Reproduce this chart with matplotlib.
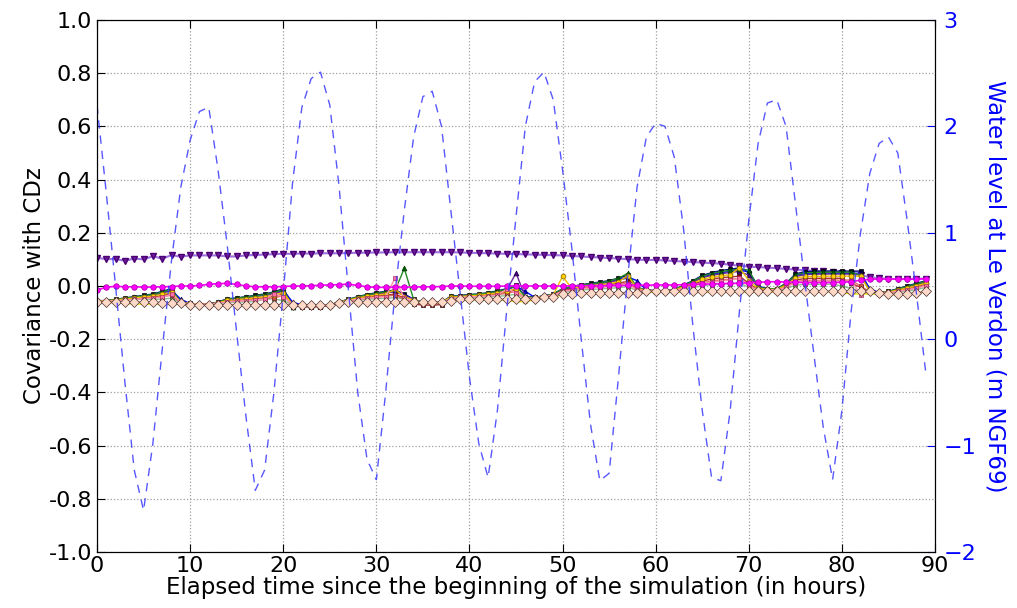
import numpy as np
import matplotlib
matplotlib.use('Agg')
import matplotlib.pyplot as plt

hours = list(range(90))

water_level = [
    2.20, 1.37, 0.49, -0.41, -1.23, -1.61, -0.98, -0.10, 0.74, 1.43,
    1.87, 2.14, 2.18, 1.59, 0.87, 0.06, -0.73, -1.42, -1.23, -0.50,
    0.43, 1.47, 2.18, 2.45, 2.51, 2.20, 1.43, 0.46, -0.50, -1.13,
    -1.32, -0.50, 0.43, 1.21, 1.90, 2.28, 2.33, 2.00, 1.21, 0.43,
    -0.36, -0.98, -1.30, -0.67, 0.27, 1.15, 2.00, 2.42, 2.51, 2.25,
    1.59, 0.85, 0.00, -0.80, -1.33, -1.26, -0.36, 0.59, 1.43, 1.90,
    2.03, 2.00, 1.71, 1.03, 0.12, -0.67, -1.30, -1.33, -0.67, 0.27,
    1.12, 1.84, 2.22, 2.25, 2.00, 1.28, 0.55, -0.15, -0.83, -1.32,
    -0.67, 0.27, 1.00, 1.56, 1.84, 1.90, 1.75, 1.12, 0.43, -0.31]

cov_purple = [
    0.106, 0.101, 0.101, 0.095, 0.103, 0.100, 0.112, 0.103, 0.116, 0.110,
    0.115, 0.115, 0.115, 0.115, 0.111, 0.111, 0.115, 0.117, 0.118, 0.120,
    0.121, 0.121, 0.122, 0.122, 0.123, 0.123, 0.123, 0.124, 0.125, 0.125,
    0.126, 0.126, 0.127, 0.127, 0.127, 0.127, 0.127, 0.127, 0.127, 0.126,
    0.125, 0.124, 0.123, 0.122, 0.121, 0.120, 0.119, 0.118, 0.117, 0.116,
    0.115, 0.113, 0.111, 0.109, 0.107, 0.105, 0.103, 0.101, 0.099, 0.098,
    0.098, 0.096, 0.094, 0.092, 0.090, 0.088, 0.086, 0.084, 0.080, 0.076,
    0.073, 0.071, 0.069, 0.067, 0.064, 0.062, 0.059, 0.057, 0.055, 0.053,
    0.050, 0.046, 0.041, 0.033, 0.029, 0.027, 0.026, 0.026, 0.027, 0.028]

cov_magenta = [
    -0.015, -0.005, -0.001, -0.003, -0.003, -0.004, -0.004, -0.003, -0.002, 0.000,
    0.000, 0.002, 0.006, 0.009, 0.010, 0.006, 0.000, -0.003, -0.003, -0.003,
    -0.002, 0.000, 0.000, 0.001, 0.003, 0.004, 0.005, 0.007, 0.002, -0.003,
    -0.005, -0.005, -0.004, -0.004, -0.004, -0.003, -0.003, -0.002, 0.000, 0.000,
    -0.001, -0.001, -0.001, -0.001, 0.000, 0.000, 0.000, 0.000, 0.000, 0.000,
    0.000, 0.001, 0.001, 0.001, 0.001, 0.002, 0.002, 0.002, 0.003, 0.003,
    0.004, 0.004, 0.004, 0.005, 0.006, 0.007, 0.008, 0.009, 0.010, 0.010,
    0.012, 0.014, 0.016, 0.016, 0.015, 0.014, 0.013, 0.013, 0.013, 0.013,
    0.014, 0.016, 0.022, 0.025, 0.026, 0.026, 0.026, 0.026, 0.026, 0.027]

cov_navy = [
    -0.055, -0.055, -0.050, -0.045, -0.040, -0.035, -0.030, -0.020, -0.010, -0.060,
    -0.065, -0.068, -0.068, -0.060, -0.048, -0.045, -0.040, -0.035, -0.030, -0.022,
    -0.010, -0.070, -0.072, -0.075, -0.075, -0.072, -0.060, -0.050, -0.040, -0.032,
    -0.025, -0.020, -0.015, -0.030, -0.050, -0.062, -0.065, -0.062, -0.038, -0.036,
    -0.032, -0.030, -0.025, -0.018, -0.010, 0.004, -0.040, -0.042, -0.038, -0.030,
    -0.010, -0.002, 0.005, 0.010, 0.015, 0.020, 0.030, 0.040, -0.005, -0.015,
    -0.018, -0.018, -0.015, 0.004, 0.020, 0.040, 0.050, 0.058, 0.063, 0.068,
    0.050, -0.005, -0.010, -0.010, 0.010, 0.045, 0.054, 0.055, 0.056, 0.056,
    0.056, 0.056, 0.056, -0.020, -0.025, -0.020, -0.010, 0.000, 0.010, 0.020]

cov_blue = [
    -0.056, -0.056, -0.051, -0.047, -0.042, -0.038, -0.033, -0.025, -0.016, -0.050,
    -0.066, -0.070, -0.070, -0.061, -0.050, -0.048, -0.043, -0.039, -0.034, -0.027,
    -0.016, -0.060, -0.072, -0.074, -0.074, -0.071, -0.061, -0.051, -0.042, -0.035,
    -0.029, -0.024, -0.020, -0.033, -0.052, -0.062, -0.065, -0.062, -0.040, -0.037,
    -0.034, -0.032, -0.028, -0.021, -0.014, -0.001, -0.020, -0.043, -0.038, -0.031,
    -0.012, -0.005, 0.002, 0.007, 0.011, 0.016, 0.025, 0.034, 0.020, -0.015,
    -0.018, -0.018, -0.016, 0.002, 0.016, 0.034, 0.043, 0.050, 0.055, 0.059,
    0.055, 0.000, -0.011, -0.011, 0.007, 0.039, 0.047, 0.048, 0.048, 0.048,
    0.048, 0.048, 0.048, -0.010, -0.025, -0.021, -0.012, -0.003, 0.007, 0.016]

cov_green = [
    -0.055, -0.055, -0.050, -0.046, -0.041, -0.036, -0.032, -0.022, -0.013, -0.062,
    -0.065, -0.069, -0.069, -0.061, -0.049, -0.046, -0.041, -0.037, -0.032, -0.024,
    -0.013, -0.078, -0.075, -0.075, -0.074, -0.071, -0.060, -0.050, -0.041, -0.033,
    -0.027, -0.022, -0.017, 0.066, -0.050, -0.062, -0.065, -0.062, -0.039, -0.037,
    -0.033, -0.031, -0.026, -0.020, -0.012, 0.000, -0.041, -0.042, -0.038, -0.031,
    -0.011, -0.003, 0.004, 0.008, 0.013, 0.018, 0.029, 0.048, -0.006, -0.016,
    -0.018, -0.018, -0.015, 0.003, 0.018, 0.037, 0.047, 0.054, 0.059, 0.064,
    0.060, -0.005, -0.010, -0.011, 0.009, 0.042, 0.050, 0.051, 0.052, 0.052,
    0.052, 0.052, 0.040, -0.020, -0.025, -0.021, -0.011, -0.002, 0.008, 0.018]

cov_indigo = [
    -0.056, -0.056, -0.052, -0.047, -0.043, -0.039, -0.035, -0.027, -0.018, -0.061,
    -0.066, -0.069, -0.069, -0.062, -0.051, -0.049, -0.045, -0.040, -0.036, -0.029,
    -0.019, -0.070, -0.073, -0.075, -0.075, -0.072, -0.061, -0.052, -0.043, -0.036,
    -0.030, -0.026, -0.022, -0.035, -0.052, -0.062, -0.065, -0.062, -0.041, -0.038,
    -0.035, -0.033, -0.029, -0.023, -0.016, 0.049, -0.042, -0.043, -0.038, -0.032,
    -0.013, -0.006, 0.000, 0.005, 0.009, 0.013, 0.022, 0.030, -0.008, -0.016,
    -0.018, -0.018, -0.016, 0.000, 0.014, 0.031, 0.040, 0.046, 0.051, 0.055,
    0.040, -0.007, -0.012, -0.012, 0.006, 0.035, 0.043, 0.044, 0.045, 0.045,
    0.045, 0.045, 0.045, -0.020, -0.025, -0.022, -0.013, -0.005, 0.005, 0.014]

cov_gold = [
    -0.056, -0.056, -0.053, -0.049, -0.045, -0.041, -0.038, -0.031, -0.024, -0.061,
    -0.066, -0.069, -0.069, -0.063, -0.054, -0.051, -0.048, -0.044, -0.040, -0.034,
    -0.025, -0.070, -0.072, -0.074, -0.074, -0.071, -0.061, -0.053, -0.045, -0.039,
    -0.034, -0.030, -0.013, -0.040, -0.053, -0.062, -0.064, -0.062, -0.042, -0.040,
    -0.037, -0.035, -0.031, -0.026, -0.020, -0.010, -0.057, -0.044, -0.039, -0.033,
    0.036, -0.009, -0.003, 0.001, 0.005, 0.009, 0.016, 0.039, -0.010, -0.016,
    -0.018, -0.018, -0.016, -0.002, 0.010, 0.025, 0.033, 0.039, 0.042, 0.069,
    0.020, -0.009, -0.013, -0.013, 0.003, 0.029, 0.036, 0.036, 0.037, 0.037,
    0.037, 0.037, 0.037, -0.020, -0.025, -0.023, -0.015, -0.008, 0.001, 0.010]

cov_darkred = [
    -0.057, -0.057, -0.054, -0.050, -0.047, -0.044, -0.041, -0.036, -0.029, -0.062,
    -0.067, -0.069, -0.069, -0.064, -0.056, -0.054, -0.051, -0.047, -0.044, -0.039,
    -0.031, -0.074, -0.078, -0.079, -0.078, -0.074, -0.062, -0.054, -0.047, -0.042,
    -0.037, -0.034, -0.031, -0.045, -0.068, -0.072, -0.072, -0.070, -0.044, -0.041,
    -0.038, -0.037, -0.034, -0.029, -0.024, -0.015, -0.050, -0.046, -0.040, -0.034,
    -0.017, -0.012, -0.006, -0.002, 0.001, 0.004, 0.011, 0.017, -0.012, -0.018,
    -0.020, -0.020, -0.017, -0.004, 0.006, 0.019, 0.026, 0.031, 0.034, 0.037,
    0.010, -0.015, -0.014, -0.014, -0.001, 0.022, 0.028, 0.029, 0.029, 0.029,
    0.029, 0.010, -0.005, -0.022, -0.026, -0.024, -0.017, -0.011, -0.002, 0.006]

cov_red = [
    -0.057, -0.057, -0.055, -0.052, -0.049, -0.046, -0.044, -0.040, -0.035, -0.063,
    -0.067, -0.069, -0.069, -0.065, -0.058, -0.056, -0.054, -0.051, -0.048, -0.044,
    -0.037, -0.072, -0.076, -0.077, -0.076, -0.073, -0.062, -0.055, -0.049, -0.045,
    -0.041, -0.038, -0.035, -0.050, -0.062, -0.066, -0.066, -0.064, -0.046, -0.042,
    -0.040, -0.039, -0.036, -0.032, -0.028, -0.020, -0.048, -0.046, -0.040, -0.035,
    -0.019, -0.015, -0.009, -0.006, -0.003, 0.000, 0.005, 0.011, -0.014, -0.018,
    -0.020, -0.020, -0.017, -0.007, 0.002, 0.013, 0.019, 0.023, 0.026, 0.028,
    0.005, -0.016, -0.015, -0.015, -0.004, 0.016, 0.021, 0.021, 0.022, 0.022,
    0.022, 0.022, 0.000, -0.022, -0.026, -0.025, -0.019, -0.014, -0.006, 0.002]

cov_pink = [
    -0.058, -0.058, -0.055, -0.053, -0.050, -0.048, -0.045, -0.043, -0.030, -0.060,
    -0.068, -0.069, -0.069, -0.065, -0.059, -0.058, -0.055, -0.053, -0.050, -0.030,
    -0.040, -0.070, -0.072, -0.074, -0.074, -0.071, -0.063, -0.055, -0.050, -0.046,
    -0.043, -0.040, 0.029, -0.045, -0.060, -0.062, -0.064, -0.062, -0.047, -0.043,
    -0.041, -0.040, -0.038, -0.034, -0.012, -0.025, -0.045, -0.046, -0.039, -0.035,
    -0.020, -0.016, -0.010, -0.008, -0.005, -0.003, 0.003, 0.008, -0.015, -0.018,
    -0.020, -0.020, -0.018, -0.008, 0.000, 0.010, 0.015, 0.019, 0.022, 0.030,
    0.000, -0.017, -0.015, -0.015, -0.005, 0.013, 0.017, 0.018, 0.018, 0.018,
    0.018, 0.018, -0.032, -0.024, -0.026, -0.025, -0.020, -0.015, -0.008, 0.000]

cov_sage = [
    -0.058, -0.058, -0.056, -0.052, -0.050, -0.050, -0.050, -0.049, -0.046, -0.063,
    -0.068, -0.070, -0.070, -0.066, -0.062, -0.061, -0.060, -0.058, -0.050, -0.048,
    -0.055, -0.070, -0.072, -0.072, -0.072, -0.070, -0.063, -0.056, -0.053, -0.050,
    -0.048, -0.046, -0.044, -0.050, -0.056, -0.060, -0.060, -0.060, -0.049, -0.045,
    -0.044, -0.043, -0.041, -0.039, -0.036, -0.031, -0.047, -0.047, -0.039, -0.036,
    -0.023, -0.020, -0.015, -0.013, -0.011, -0.009, -0.006, -0.002, -0.018, -0.018,
    -0.020, -0.020, -0.018, -0.012, -0.006, 0.001, 0.005, 0.007, 0.009, 0.011,
    -0.005, -0.018, -0.017, -0.017, -0.010, 0.003, 0.006, 0.006, 0.007, 0.007,
    0.000, -0.010, -0.020, -0.022, -0.026, -0.027, -0.023, -0.020, -0.013, -0.006]

cov_yellow = [
    -0.062, -0.062, -0.063, -0.065, -0.068, -0.068, -0.068, -0.068, -0.068, -0.068,
    -0.070, -0.071, -0.071, -0.071, -0.071, -0.071, -0.071, -0.071, -0.071, -0.071,
    -0.071, -0.071, -0.072, -0.073, -0.073, -0.070, -0.065, -0.062, -0.062, -0.062,
    -0.062, -0.062, -0.062, -0.063, -0.064, -0.064, -0.063, -0.062, -0.058, -0.053,
    -0.053, -0.053, -0.053, -0.053, -0.053, -0.060, -0.058, -0.053, -0.045, -0.042,
    -0.033, -0.030, -0.028, -0.028, -0.028, -0.028, -0.028, -0.028, -0.028, -0.025,
    -0.023, -0.023, -0.023, -0.023, -0.023, -0.023, -0.023, -0.023, -0.023, -0.023,
    -0.023, -0.023, -0.023, -0.023, -0.023, -0.022, -0.022, -0.022, -0.022, -0.022,
    -0.025, -0.030, -0.030, -0.030, -0.030, -0.033, -0.033, -0.032, -0.028, -0.022]

cov_diamond = [
    -0.060, -0.060, -0.060, -0.060, -0.060, -0.060, -0.060, -0.065, -0.065, -0.065,
    -0.070, -0.070, -0.070, -0.070, -0.070, -0.070, -0.070, -0.070, -0.070, -0.070,
    -0.070, -0.070, -0.072, -0.072, -0.072, -0.070, -0.065, -0.060, -0.060, -0.060,
    -0.060, -0.060, -0.060, -0.060, -0.060, -0.060, -0.060, -0.060, -0.055, -0.050,
    -0.050, -0.050, -0.050, -0.050, -0.050, -0.050, -0.050, -0.050, -0.040, -0.040,
    -0.030, -0.030, -0.025, -0.025, -0.025, -0.025, -0.025, -0.025, -0.025, -0.020,
    -0.020, -0.020, -0.020, -0.020, -0.020, -0.020, -0.020, -0.020, -0.020, -0.020,
    -0.020, -0.020, -0.020, -0.020, -0.020, -0.020, -0.020, -0.020, -0.020, -0.020,
    -0.020, -0.020, -0.020, -0.020, -0.025, -0.030, -0.030, -0.030, -0.025, -0.020]

left_ticks = [-1.0, -0.8, -0.6, -0.4, -0.2, 0.0, 0.2, 0.4, 0.6, 0.8, 1.0]
right_ticks = [-2, -1, 0, 1, 2, 3]
x_ticks = [0, 10, 20, 30, 40, 50, 60, 70, 80, 90]

# drawing order: bottom to top
cluster = [cov_navy, cov_blue, cov_indigo, cov_green, cov_sage, cov_darkred,
           cov_red, cov_gold, cov_pink, cov_yellow, cov_diamond]
# (line colour, marker, face, edge, size)
cluster_style = [
    ('#000080', 's', '#000030', '#000000', 3),
    ('#0000ff', '^', '#0000cc', '#000060', 3.5),
    ('#6a2a9a', '^', '#4b0082', '#200040', 3.5),
    ('#228b22', '^', '#006400', '#003000', 3.5),
    ('#8fbc8f', 's', '#6b8e5a', '#3a5a30', 3.5),
    ('#b03030', 's', '#8b0000', '#300000', 3.5),
    ('#e06a6a', 's', '#d05050', '#802020', 3.5),
    ('#f0c000', 'o', '#ffd000', '#806000', 3.5),
    ('#ff8fb0', 's', '#ff6fa8', '#a03060', 3.5),
    ('#f5e400', '.', '#f5e400', '#b0a000', 2),
    ('#c98a7a', 'D', '#ffd9c8', '#4a3030', 5),
]

FS = 16
plt.rcParams['font.family'] = 'DejaVu Sans'
fig = plt.figure(figsize=(10.17, 6.08), dpi=100)
ax = fig.add_axes([0.0954, 0.0921, 0.8240, 0.8750])

ax.plot(hours, cov_purple, color='#a070e0', lw=1.5, marker='v', ms=4.5,
        mfc='#6a1b9a', mec='#4a0072', zorder=3)
for vals, (lc, mk, fc, ec, ms) in zip(cluster, cluster_style):
    ax.plot(hours, vals, color=lc, lw=1.0, marker=mk, ms=ms, mfc=fc, mec=ec,
            mew=0.5, zorder=3)
ax.plot(hours, cov_magenta, color='#ff00ff', lw=1.2, marker='o', ms=4,
        mfc='#ff00ff', mec='#a000a0', mew=0.5, zorder=3)

ax.set_xlim(0, 90)
ax.set_ylim(-1, 1)
ax.set_xticks(x_ticks)
ax.set_yticks(left_ticks)
ax.set_yticklabels(['%.1f' % v if v != 0 else '0.0' for v in left_ticks])
ax.grid(True, color='#a0a0a0', linestyle=':', linewidth=0.9)
ax.tick_params(direction='in', labelsize=FS, length=6, top=True)
ax.tick_params(axis='x', pad=3)
ax.set_xlabel('Elapsed time since the beginning of the simulation (in hours)',
              fontsize=FS + 0.5, labelpad=0)
ax.set_ylabel('Covariance with CDz', fontsize=FS + 0.5, labelpad=2)

ax2 = ax.twinx()
ax2.plot(hours, water_level, color='#3a3aff', lw=1.0, linestyle=(0, (6, 5)),
         alpha=0.85)
ax2.set_ylim(-2, 3)
ax2.set_yticks(right_ticks)
ax2.tick_params(direction='in', labelsize=FS, length=6, colors='blue', pad=6)
ax2.set_ylabel('Water level at Le Verdon (m NGF69)', fontsize=FS + 0.5,
               color='blue', rotation=270, labelpad=22)
for sp in ax2.spines.values():
    sp.set_color('black')
ax2.set_xlim(0, 90)

fig.savefig('out.png', dpi=100)
